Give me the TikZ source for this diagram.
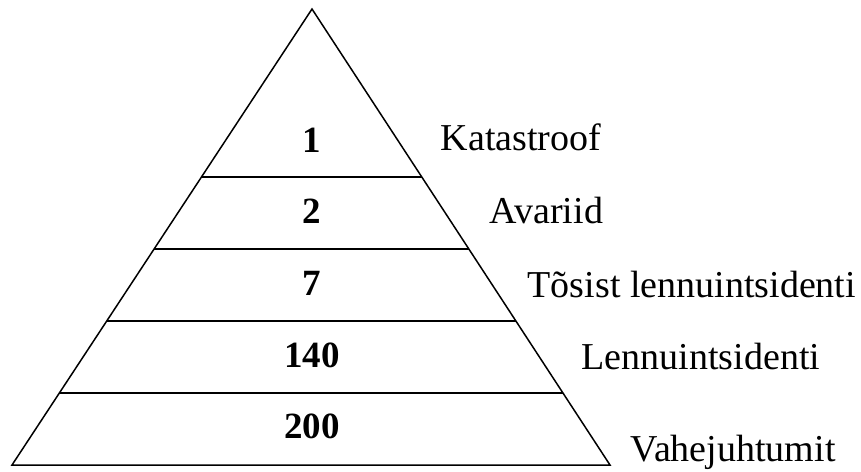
\documentclass[tikz,border=0pt]{standalone}
\usepackage{fontspec}
\setmainfont{Liberation Serif}
\usetikzlibrary{calc}

\begin{document}
\begin{tikzpicture}[x=1pt, y=-1pt, line width=1.5pt,
    num/.style={font=\fontsize{37}{42}\selectfont\bfseries, anchor=base, inner sep=0pt},
    lbl/.style={font=\fontsize{38}{42}\selectfont, anchor=base west, inner sep=0pt}]
  \useasboundingbox (0,0) rectangle (861,471);
  % pyramid outline
  \coordinate (apex) at (312,9);
  \coordinate (bl) at (12,465);
  \coordinate (br) at (610,465);
  \draw (bl) -- (apex) -- (br) -- cycle;
  % level dividers
  \foreach \t/\n in {0.368/a, 0.526/b, 0.684/c, 0.842/d}
    \draw ($(apex)!\t!(bl)$) coordinate (l\n) -- ($(apex)!\t!(br)$) coordinate (r\n);
  % counts
  \node[num] (n1) at (312,152) {1};
  \node[num] (n2) at (312,223) {2};
  \node[num] (n7) at (312,295) {7};
  \node[num] (n140) at (312,367) {140};
  \node[num] (n200) at (312,438) {200};
  % level names
  \node[lbl] (katastroof) at (440,150) {Katastroof};
  \node[lbl] (avariid) at (489,223) {Avariid};
  \node[lbl] (tosist) at (527,297) {Tõsist lennuintsidenti};
  \node[lbl] (lennu) at (581,369) {Lennuintsidenti};
  \node[lbl] (vahe) at (630,461) {Vahejuhtumit};
\end{tikzpicture}
\end{document}
